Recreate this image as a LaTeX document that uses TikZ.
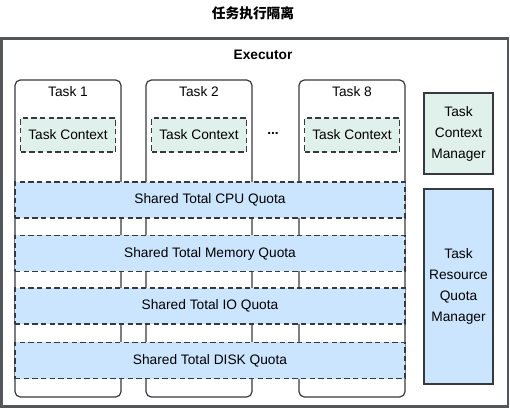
\documentclass[tikz,border=0pt]{standalone}
\usepackage{fontspec}
\setmainfont{Liberation Sans}
\newfontfamily\cjkfont{Noto Sans CJK SC}
\usetikzlibrary{positioning,calc}
\definecolor{ctxgreen}{RGB}{224,240,234}
\definecolor{quotablue}{RGB}{204,229,255}
\definecolor{edgegray}{RGB}{54,57,61}
\tikzset{
  taskbox/.style={draw=edgegray, rounded corners=4pt, line width=0.9pt, fill=white},
  ctx/.style={draw=edgegray, dashed, dash pattern=on 4pt off 2.5pt, fill=ctxgreen,
              line width=0.9pt, minimum width=95*0.75pt, minimum height=34*0.75pt,
              inner sep=0pt, font=\fontsize{10.3}{12}\selectfont},
  quota/.style={draw=edgegray, dashed, dash pattern=on 4pt off 2.5pt, fill=quotablue,
                line width=0.9pt, minimum width=390*0.75pt, minimum height=36*0.75pt,
                inner sep=0pt, font=\fontsize{10.3}{12}\selectfont},
  mgr/.style={draw=edgegray, line width=0.9pt, minimum width=69*0.75pt, inner sep=0pt,
              align=center, font=\fontsize{10.3}{15.75}\selectfont},
  lbl/.style={font=\fontsize{10.3}{12}\selectfont},
}

\begin{document}
\begin{tikzpicture}[x=0.75pt, y=-0.75pt]
    \useasboundingbox (0,0) rectangle (510,409);
    % title and outer executor frame
    \node[font=\cjkfont\bfseries\fontsize{10.3}{12}\selectfont] (title) at (253,13) {任务执行隔离};
    \draw[draw=edgegray!85, line width=1.6pt] (1.5,38.5) rectangle (508,406.5);
    \coordinate (exec) at (263,55);
    \node[font=\bfseries\fontsize{10.3}{12}\selectfont] (execlbl) at (exec) {Executor};
    % task columns
    \foreach \nm/\xa/\txt in {t1/15/Task 1, t2/146/Task 2, t8/299/Task 8}{
      \draw[taskbox] (\xa,80) rectangle ++(106,317);
      \node[lbl] (\nm lbl) at (\xa+53,92) {\txt};
      \node[ctx] (\nm ctx) at (\xa+53,135) {Task Context};
    }
    \node[lbl, font=\bfseries\fontsize{10.3}{12}\selectfont] (dots) at (273,133) {...};
    % shared quota bars
    \node[quota] (cpu) at (210,200) {Shared Total CPU Quota};
    \node[quota] (mem) at (210,253.5) {Shared Total Memory Quota};
    \node[quota] (io)  at (210,306) {Shared Total IO Quota};
    \node[quota] (disk) at (210,360.5) {Shared Total DISK Quota};
    % managers on the right
    \node[mgr, fill=ctxgreen, minimum height=81*0.75pt] (ctxmgr) at (458.5,133.5)
      {Task\\Context\\Manager};
    \node[mgr, fill=quotablue, minimum height=195*0.75pt] (resmgr) at (458.5,286.5)
      {Task\\Resource\\Quota\\Manager};
\end{tikzpicture}
\end{document}
